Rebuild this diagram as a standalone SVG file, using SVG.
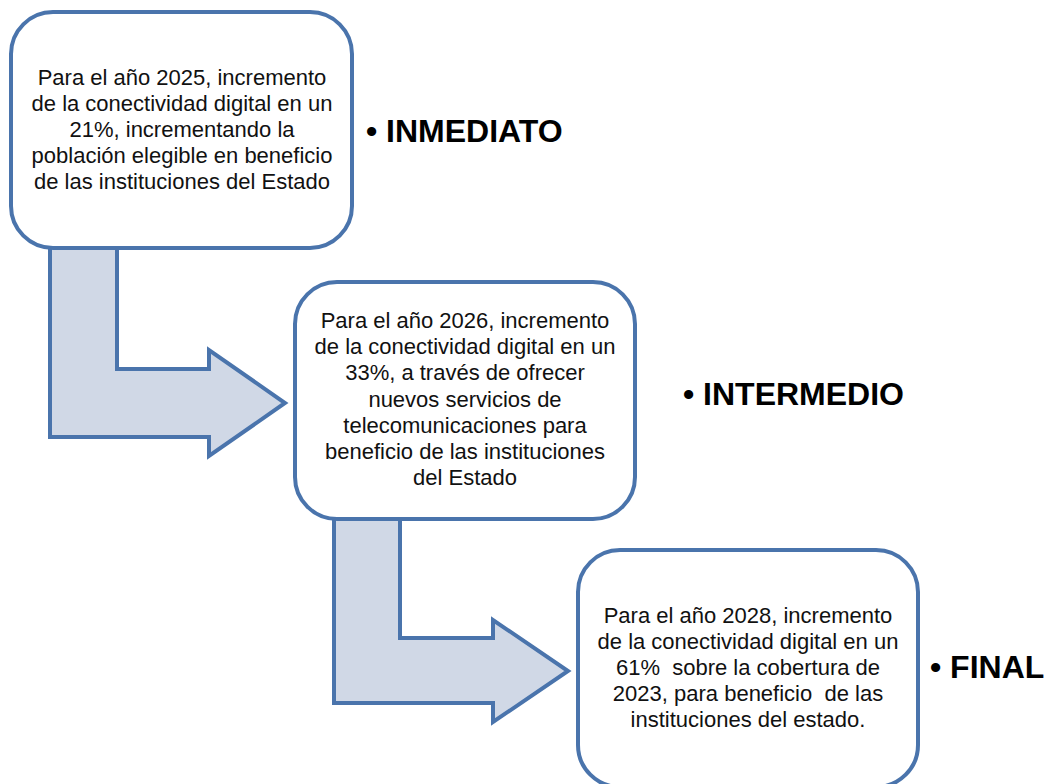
<svg xmlns="http://www.w3.org/2000/svg" width="1050" height="784" viewBox="0 0 1050 784">
<style>
.box{fill:#ffffff;stroke:#4a74ac;stroke-width:4}
.arr{fill:#d0d8e6;stroke:#4a74ac;stroke-width:4;stroke-linejoin:miter}
.t{font-family:"Liberation Sans",Arial,sans-serif;font-size:22px;fill:#111111;text-anchor:middle}
.lbl{font-family:"Liberation Sans",Arial,sans-serif;font-size:32px;font-weight:bold;fill:#000000}
</style>
<rect width="1050" height="784" fill="#ffffff"/>
<g id="connectors">
<path class="arr" d="M50,246 L117,246 L117,369 L209,369 L209,350 L285,403 L209,456 L209,437 L50,437 Z"/>
<path class="arr" d="M334,516 L400,516 L400,638 L493,638 L493,620 L568,671 L493,722 L493,703 L334,703 Z"/>
</g>
<g id="node1">
<rect class="box" x="11" y="12" width="341" height="236" rx="42"/>
<text class="t" x="182" y="85">Para el año 2025, incremento</text>
<text class="t" x="182" y="111">de la conectividad digital en un</text>
<text class="t" x="182" y="137">21%, incrementando la</text>
<text class="t" x="182" y="163">población elegible en beneficio</text>
<text class="t" x="182" y="189">de las instituciones del Estado</text>
</g>
<g id="node2">
<rect class="box" x="295" y="282" width="340" height="237" rx="42"/>
<text class="t" x="465" y="328">Para el año 2026, incremento</text>
<text class="t" x="465" y="354">de la conectividad digital en un</text>
<text class="t" x="465" y="380">33%, a través de ofrecer</text>
<text class="t" x="465" y="407">nuevos servicios de</text>
<text class="t" x="465" y="433">telecomunicaciones para</text>
<text class="t" x="465" y="459">beneficio de las instituciones</text>
<text class="t" x="465" y="485">del Estado</text>
</g>
<g id="node3">
<rect class="box" x="578" y="550" width="340" height="237" rx="42"/>
<text class="t" x="748" y="623">Para el año 2028, incremento</text>
<text class="t" x="748" y="649">de la conectividad digital en un</text>
<text class="t" x="748" y="675" xml:space="preserve">61%  sobre la cobertura de</text>
<text class="t" x="748" y="701" xml:space="preserve">2023, para beneficio  de las</text>
<text class="t" x="748" y="727">instituciones del estado.</text>
</g>
<g id="label1"><text class="lbl" x="366" y="142">• INMEDIATO</text></g>
<g id="label2"><text class="lbl" x="683" y="405">• INTERMEDIO</text></g>
<g id="label3"><text class="lbl" x="930" y="678">• FINAL</text></g>
</svg>
